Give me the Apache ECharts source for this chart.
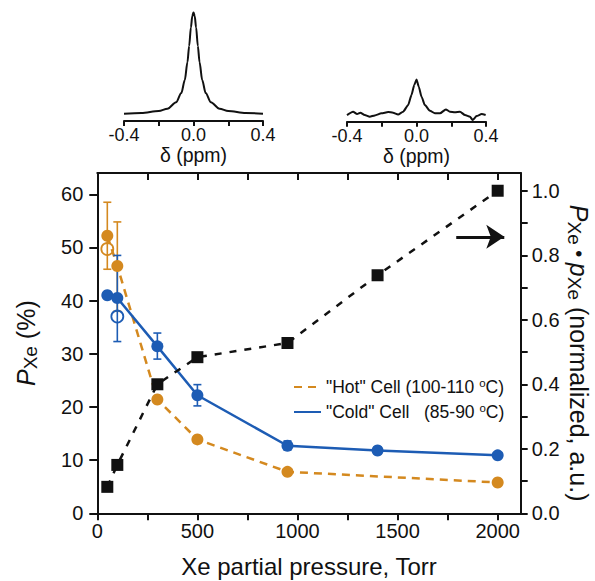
<!DOCTYPE html>
<html>
<head>
<meta charset="utf-8">
<script src="https://cdn.jsdelivr.net/npm/echarts@6/dist/echarts.min.js"></script>
<style>
html,body{margin:0;padding:0;background:#fff;}
#chart{width:595px;height:581px;}
</style>
</head>
<body>
<div id="chart"></div>
<script>
// ---------- data ----------
const xHot = [50, 100, 300, 500, 950, 2000];
const hotVals = [52.2, 46.5, 21.4, 13.9, 7.8, 5.8];
const xCold = [50, 100, 300, 500, 950, 1400, 2000];
const coldVals = [41.0, 40.5, 31.4, 22.2, 12.7, 11.8, 10.9];

const hotErrX = [50, 100];
const hotErrLow = [45.9, 38.0];
const hotErrHigh = [58.5, 54.8];
const coldErrX = [100, 300, 500, 950, 1400];
const coldErrLow = [32.3, 29.0, 20.2, 11.9, 11.2];
const coldErrHigh = [48.5, 33.9, 24.2, 13.6, 12.5];

const hotOpenX = [50];
const hotOpenVals = [49.7];
const coldOpenX = [100];
const coldOpenVals = [37.0];

const xProd = [50, 100, 300, 500, 950, 1400, 2000];
const prodVals = [0.082, 0.15, 0.40, 0.484, 0.528, 0.738, 1.0];

const arrowX = [1793, 2033];
const arrowY = 0.857;

const xTicks = [0, 250, 500, 750, 1000, 1250, 1500, 1750, 2000];
const xLabels = [0, 500, 1000, 1500, 2000];
const yLeftTicks = [0, 10, 20, 30, 40, 50, 60];
const yRightTicks = [0, 0.1, 0.2, 0.3, 0.4, 0.5, 0.6, 0.7, 0.8, 0.9, 1.0];
const yRightLabels = [0, 0.2, 0.4, 0.6, 0.8, 1.0];
const ppmTicks = [-0.4, -0.2, 0, 0.2, 0.4];
const ppmLabels = [-0.4, 0, 0.4];

// inset spectra
const spec1X = [-0.40, -0.30, -0.20, -0.15, -0.10, -0.07, -0.05, -0.035, -0.025, -0.015, -0.007, 0,
                0.007, 0.015, 0.025, 0.035, 0.05, 0.07, 0.10, 0.15, 0.20, 0.30, 0.40];
const spec1Y = [0.067, 0.073, 0.092, 0.113, 0.172, 0.257, 0.377, 0.54, 0.69, 0.86, 0.965, 1.0,
                0.965, 0.86, 0.69, 0.54, 0.377, 0.257, 0.172, 0.113, 0.092, 0.073, 0.067];
const spec2X = [-0.400, -0.365, -0.342, -0.323, -0.298, -0.269, -0.240, -0.202, -0.163, -0.135, -0.106,
                -0.077, -0.048, -0.029, -0.013, 0, 0.013, 0.029, 0.048, 0.077, 0.106, 0.135, 0.169,
                0.192, 0.221, 0.250, 0.279, 0.308, 0.323, 0.346, 0.375, 0.398];
const spec2Y = [0.061, 0.092, 0.070, 0.083, 0.061, 0.046, 0.058, 0.077, 0.089, 0.083, 0.067,
                0.092, 0.153, 0.245, 0.337, 0.389, 0.322, 0.230, 0.153, 0.101, 0.077, 0.077, 0.113,
                0.092, 0.086, 0.092, 0.061, 0.046, 0.015, 0.052, 0.070, 0.061];

// ---------- style ----------
const FONT = "'Liberation Sans', Arial, Helvetica, sans-serif";
const ORANGE = '#D4891F';
const BLUE = '#1D5CB4';
const BLACK = '#111111';

const zip = (xs, ys) => xs.map((x, i) => [x, ys[i]]);
const zip3 = (xs, a, b) => xs.map((x, i) => [x, a[i], b[i]]);

function errorBar(color) {
  return function (params, api) {
    const x = api.value(0);
    const lo = api.coord([x, api.value(1)]);
    const hi = api.coord([x, api.value(2)]);
    const w = 4;
    const st = { stroke: color, lineWidth: 1.6 };
    return {
      type: 'group',
      children: [
        { type: 'line', shape: { x1: lo[0], y1: lo[1], x2: hi[0], y2: hi[1] }, style: st },
        { type: 'line', shape: { x1: lo[0] - w, y1: lo[1], x2: lo[0] + w, y2: lo[1] }, style: st },
        { type: 'line', shape: { x1: hi[0] - w, y1: hi[1], x2: hi[0] + w, y2: hi[1] }, style: st }
      ]
    };
  };
}

const axisLineStyle = { color: BLACK, width: 2 };
const labelStyle = { color: BLACK, fontSize: 20, fontFamily: FONT };
const titleRich = {
  i: { fontSize: 25, fontStyle: 'italic', fontFamily: FONT, color: BLACK, lineHeight: 28 },
  s: { fontSize: 19, fontFamily: FONT, color: BLACK, lineHeight: 19, verticalAlign: 'bottom' },
  d: { fontSize: 20, fontFamily: FONT, color: BLACK, lineHeight: 28 },
  t: { fontSize: 25, fontFamily: FONT, color: BLACK, lineHeight: 28 }
};

const chart = echarts.init(document.getElementById('chart'), null, { renderer: 'svg' });

const option = {
  animation: false,
  backgroundColor: '#fff',
  textStyle: { fontFamily: FONT },
  grid: [
    { left: 97.3, top: 173, width: 423.4, height: 340.3, containLabel: false, outerBoundsMode: 'none' },
    { left: 124, top: 12.3, width: 139, height: 108.7, containLabel: false, outerBoundsMode: 'none' },
    { left: 347, top: 13, width: 139, height: 108.7, containLabel: false, outerBoundsMode: 'none' }
  ],
  legend: {
    orient: 'vertical',
    left: 288,
    top: 372,
    itemWidth: 27,
    itemHeight: 14,
    itemGap: 6,
    data: [
      { name: 'Hot', itemStyle: { opacity: 0 } },
      { name: 'Cold', itemStyle: { opacity: 0 } }
    ],
    formatter: function (name) {
      return name === 'Hot'
        ? '{t|"Hot" Cell (100-110 }{sup|o}{t|C)}'
        : '{t|"Cold" Cell\u00a0\u00a0\u00a0(85-90 }{sup|o}{t|C)}';
    },
    textStyle: {
      color: BLACK,
      rich: {
        t: { fontSize: 17.5, fontFamily: FONT, color: BLACK, lineHeight: 20 },
        sup: { fontSize: 11.5, fontFamily: FONT, color: BLACK, lineHeight: 12, verticalAlign: 'top' }
      }
    }
  },
  xAxis: [
    {
      gridIndex: 0, type: 'value', min: 0, max: 2115, position: 'bottom',
      axisLine: { onZero: false, lineStyle: axisLineStyle },
      axisTick: { customValues: xTicks, length: 7, lineStyle: { width: 2, color: BLACK } },
      axisLabel: Object.assign({ customValues: xLabels, margin: 8, formatter: v => String(v) }, labelStyle),
      splitLine: { show: false },
      name: 'Xe partial pressure, Torr', nameLocation: 'middle', nameGap: 41, nameMoveOverlap: false,
      nameTextStyle: { fontSize: 24, color: BLACK, fontFamily: FONT }
    },
    {
      gridIndex: 0, type: 'value', min: 0, max: 2115, position: 'top',
      axisLine: { onZero: false, lineStyle: axisLineStyle },
      axisTick: { inside: true, customValues: xTicks, length: 7, lineStyle: { width: 2, color: BLACK } },
      axisLabel: { show: false },
      splitLine: { show: false }
    },
    {
      gridIndex: 1, type: 'value', min: -0.4, max: 0.4,
      axisLine: { onZero: false, lineStyle: axisLineStyle },
      axisTick: { customValues: ppmTicks, length: 5, lineStyle: { width: 2, color: BLACK } },
      axisLabel: { customValues: ppmLabels, margin: 5, color: BLACK, fontSize: 18, lineHeight: 18, fontFamily: FONT,
                   formatter: v => v.toFixed(1) },
      splitLine: { show: false },
      name: 'δ (ppm)', nameLocation: 'middle', nameGap: 24, nameMoveOverlap: false,
      nameTextStyle: { fontSize: 19.5, lineHeight: 20, color: BLACK, fontFamily: FONT }
    },
    {
      gridIndex: 2, type: 'value', min: -0.4, max: 0.4,
      axisLine: { onZero: false, lineStyle: axisLineStyle },
      axisTick: { customValues: ppmTicks, length: 5, lineStyle: { width: 2, color: BLACK } },
      axisLabel: { customValues: ppmLabels, margin: 5, color: BLACK, fontSize: 18, lineHeight: 18, fontFamily: FONT,
                   formatter: v => v.toFixed(1) },
      splitLine: { show: false },
      name: 'δ (ppm)', nameLocation: 'middle', nameGap: 24, nameMoveOverlap: false,
      nameTextStyle: { fontSize: 19.5, lineHeight: 20, color: BLACK, fontFamily: FONT }
    }
  ],
  yAxis: [
    {
      gridIndex: 0, type: 'value', min: 0, max: 64, position: 'left',
      axisLine: { show: true, onZero: false, lineStyle: axisLineStyle },
      axisTick: { show: true, inside: false, customValues: yLeftTicks, length: 8, lineStyle: { width: 2, color: BLACK } },
      axisLabel: Object.assign({ customValues: yLeftTicks, margin: 14 }, labelStyle),
      minorTick: { show: false },
      splitLine: { show: false },
      name: '{i|P}{s|Xe}{t| (%)}', nameLocation: 'middle', nameGap: 57, nameMoveOverlap: false,
      nameTextStyle: { rich: titleRich }
    },
    {
      gridIndex: 0, type: 'value', min: 0, max: 1.055, position: 'right',
      axisLine: { show: true, onZero: false, lineStyle: axisLineStyle },
      axisTick: { show: true, inside: false, customValues: yRightTicks, length: 7, lineStyle: { width: 2, color: BLACK } },
      axisLabel: Object.assign({ customValues: yRightLabels, margin: 11, formatter: v => v.toFixed(1) }, labelStyle),
      minorTick: { show: false },
      splitLine: { show: false },
      name: '{i|P}{s|Xe}{d| \u2022 }{i|p}{s|Xe}{t| (normalized, a.u.)}',
      nameLocation: 'middle', nameGap: 44, nameRotate: -90, nameMoveOverlap: false,
      nameTextStyle: { padding: [0, 0, 0, 20], rich: titleRich }
    },
    { gridIndex: 1, type: 'value', min: 0, max: 1, show: false },
    { gridIndex: 2, type: 'value', min: 0, max: 1, show: false }
  ],
  series: [
    // spectra
    {
      type: 'line', xAxisIndex: 2, yAxisIndex: 2, data: zip(spec1X, spec1Y),
      showSymbol: false, smooth: 0.3, smoothMonotone: 'x',
      lineStyle: { color: BLACK, width: 2 }, silent: true
    },
    {
      type: 'line', xAxisIndex: 3, yAxisIndex: 3, data: zip(spec2X, spec2Y),
      showSymbol: false, smooth: 0.2, smoothMonotone: 'x',
      lineStyle: { color: BLACK, width: 2 }, silent: true
    },
    // lines
    {
      name: 'Hot', type: 'line', xAxisIndex: 0, yAxisIndex: 0, data: zip(xHot, hotVals),
      symbol: 'none', color: ORANGE,
      lineStyle: { color: ORANGE, width: 2.5, type: [8, 6] }, z: 2
    },
    {
      name: 'Cold', type: 'line', xAxisIndex: 0, yAxisIndex: 0, data: zip(xCold, coldVals),
      symbol: 'none', color: BLUE,
      lineStyle: { color: BLUE, width: 2.5 }, z: 3
    },
    // error bars
    {
      type: 'custom', xAxisIndex: 0, yAxisIndex: 0, data: zip3(hotErrX, hotErrLow, hotErrHigh),
      renderItem: errorBar(ORANGE), encode: { x: 0, y: [1, 2] }, z: 4, silent: true
    },
    {
      type: 'custom', xAxisIndex: 0, yAxisIndex: 0, data: zip3(coldErrX, coldErrLow, coldErrHigh),
      renderItem: errorBar(BLUE), encode: { x: 0, y: [1, 2] }, z: 4, silent: true
    },
    // markers
    {
      type: 'scatter', xAxisIndex: 0, yAxisIndex: 0, data: zip(xHot, hotVals),
      symbol: 'circle', symbolSize: 12, itemStyle: { color: ORANGE, opacity: 1 }, z: 5
    },
    {
      type: 'scatter', xAxisIndex: 0, yAxisIndex: 0, data: zip(xCold, coldVals),
      symbol: 'circle', symbolSize: 12, itemStyle: { color: BLUE, opacity: 1 }, z: 5
    },
    {
      type: 'scatter', xAxisIndex: 0, yAxisIndex: 0, data: zip(hotOpenX, hotOpenVals),
      symbol: 'circle', symbolSize: 12,
      itemStyle: { color: 'rgba(255,255,255,0)', borderColor: ORANGE, borderWidth: 1.8, opacity: 1 }, z: 5
    },
    {
      type: 'scatter', xAxisIndex: 0, yAxisIndex: 0, data: zip(coldOpenX, coldOpenVals),
      symbol: 'circle', symbolSize: 12,
      itemStyle: { color: 'rgba(255,255,255,0)', borderColor: BLUE, borderWidth: 1.8, opacity: 1 }, z: 5
    },
    // product (right axis)
    {
      type: 'line', xAxisIndex: 0, yAxisIndex: 1, data: zip(xProd, prodVals),
      symbol: 'none', lineStyle: { color: BLACK, width: 2.5, type: [7, 8] }, z: 6,
      markLine: {
        silent: true,
        symbol: ['none', 'arrow'],
        symbolSize: 18,
        label: { show: false },
        lineStyle: { color: BLACK, width: 3, type: 'solid' },
        data: [[{ coord: [arrowX[0], arrowY] }, { coord: [arrowX[1], arrowY] }]]
      }
    },
    {
      type: 'scatter', xAxisIndex: 0, yAxisIndex: 1, data: zip(xProd, prodVals),
      symbol: 'rect', symbolSize: 12, itemStyle: { color: BLACK, opacity: 1 }, z: 7
    }
  ]
};

chart.setOption(option);
</script>
</body>
</html>
